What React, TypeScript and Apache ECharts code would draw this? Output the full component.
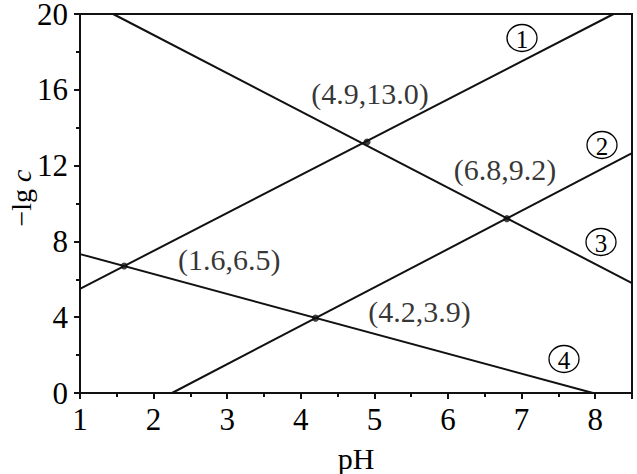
import React, { useEffect, useRef } from "react";
import * as echarts from "echarts";

// Line endpoints: [pH, -lg c]
const line1 = [[1, 5.5], [8.25, 20]];
const line2 = [[2.25, 0], [8.5, 12.66]];
const line3 = [[1.45, 20], [8.5, 5.8]];
const line4 = [[1, 7.33], [7.97, 0]];

// Intersection dots (drawn) and their printed labels
const dotPoints = [[1.6, 6.7], [4.9, 13.25], [6.8, 9.2], [4.2, 3.95]];
const dotLabels = ["(1.6,6.5)", "(4.9,13.0)", "(6.8,9.2)", "(4.2,3.9)"];

const xTicks = [1, 2, 3, 4, 5, 6, 7, 8];
const yTicks = [0, 4, 8, 12, 16, 20];
const curveNames = ["1", "2", "3", "4"];

const FONT = "Liberation Serif";
const INK = "#000";

export default function App() {
  const ref = useRef<HTMLDivElement>(null);
  useEffect(() => {
    if (!ref.current) return;
    document.body.style.margin = "0";
    const chart = echarts.init(ref.current, null, { renderer: "svg" });
    const labelOffsets = [[105, -7], [3, -48], [-2, -49], [104, -7]];
    const circlePos = [[522, 38], [602, 145], [601, 242], [564, 359]];
    const lineStyle = { color: "#111", width: 2 };
    const mkLine = (d: number[][]) => ({
      type: "line",
      data: d,
      symbol: "none",
      lineStyle,
      silent: true,
      z: 3,
    });
    const graphic: any[] = [];
    curveNames.forEach((n, i) => {
      graphic.push({
        type: "ellipse",
        shape: { cx: circlePos[i][0], cy: circlePos[i][1], rx: 15, ry: 13.5 },
        style: { fill: "#fff", stroke: INK, lineWidth: 1.3 },
        z: 10,
      });
      graphic.push({
        type: "text",
        x: circlePos[i][0],
        y: circlePos[i][1] + 1,
        style: {
          text: n,
          fontFamily: FONT,
          fontSize: 25,
          fill: INK,
          align: "center",
          verticalAlign: "middle",
        },
        z: 11,
      });
    });
    // y-axis title, rotated
    graphic.push({
      type: "text",
      x: 21,
      y: 198,
      rotation: Math.PI / 2,
      style: {
        text: "{a|−lg }{c|c}",
        fontFamily: FONT,
        fontSize: 28,
        fill: INK,
        align: "center",
        verticalAlign: "middle",
        rich: {
          a: { fontFamily: FONT, fontSize: 28, fill: INK, lineHeight: 28 },
          c: { fontFamily: FONT, fontSize: 28, fill: INK, fontStyle: "italic", lineHeight: 28 },
        },
      },
      z: 11,
    });
    chart.setOption({
      animation: false,
      backgroundColor: "#fff",
      textStyle: { fontFamily: FONT },
      grid: {
        left: 80,
        right: 5,
        top: 14,
        bottom: 81,
        containLabel: false,
        outerBoundsMode: "none",
        show: true,
        borderColor: "#111",
        borderWidth: 2,
      },
      xAxis: {
        type: "value",
        min: 1,
        max: 8.5,
        interval: 1,
        name: "pH",
        nameLocation: "middle",
        nameGap: 50,
        nameTextStyle: { fontFamily: FONT, fontSize: 30, color: INK },
        axisLine: { show: true, onZero: false, lineStyle: { color: "#111", width: 2 } },
        axisTick: { show: true, inside: false, length: 6, lineStyle: { color: "#111", width: 2 } },
        minorTick: { show: true, splitNumber: 2, length: 4, lineStyle: { color: "#111", width: 2 } },
        splitLine: { show: false },
        axisLabel: {
          fontFamily: FONT,
          fontSize: 31,
          color: INK,
          margin: 11,
          formatter: (v: number) => (xTicks.includes(v) ? String(v) : ""),
        },
      },
      yAxis: {
        type: "value",
        min: 0,
        max: 20,
        interval: 4,
        axisLine: { show: true, onZero: false, lineStyle: { color: "#111", width: 2 } },
        axisTick: { show: true, inside: false, length: 6, lineStyle: { color: "#111", width: 2 } },
        minorTick: { show: true, splitNumber: 2, length: 4, lineStyle: { color: "#111", width: 2 } },
        splitLine: { show: false },
        axisLabel: {
          fontFamily: FONT,
          fontSize: 31,
          lineHeight: 24,
          color: INK,
          margin: 12,
          formatter: (v: number) => (yTicks.includes(v) ? String(v) : ""),
        },
      },
      series: [
        mkLine(line1),
        mkLine(line2),
        mkLine(line3),
        mkLine(line4),
        {
          type: "scatter",
          symbol: "circle",
          symbolSize: 7,
          itemStyle: { color: "#111" },
          z: 5,
          data: dotPoints.map((p, i) => ({
            value: p,
            label: {
              show: true,
              position: "inside",
              offset: labelOffsets[i],
              formatter: dotLabels[i],
              fontFamily: FONT,
              fontSize: 30,
              color: INK,
              textBorderWidth: 0,
            },
          })),
        },
      ],
      graphic,
    });
    return () => chart.dispose();
  }, []);
  return <div ref={ref} style={{ width: 637, height: 474 }} />;
}
